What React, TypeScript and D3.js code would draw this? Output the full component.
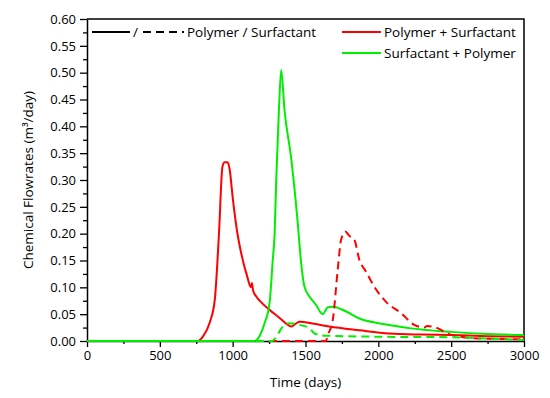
import React, { useEffect, useRef } from 'react';
import * as d3 from 'd3';

// [time (days), flowrate (m3/day)]
const polySurfPolymer = [
  [0, 0], [762, 0], [800, 0.01], [842, 0.034], [877, 0.076], [906, 0.2], [930, 0.325], [945, 0.333],
  [965, 0.333], [978, 0.322], [1002, 0.263], [1030, 0.205], [1059, 0.163], [1100, 0.12], [1125, 0.1], [1132, 0.108],
  [1140, 0.094], [1162, 0.083], [1200, 0.071], [1253, 0.058], [1322, 0.043], [1379, 0.03], [1402, 0.027],
  [1436, 0.033], [1459, 0.036], [1560, 0.032], [1664, 0.027], [1870, 0.02], [2075, 0.014], [2300, 0.012],
  [2500, 0.011], [2750, 0.009], [3000, 0.008],
];
const polySurfSurfactant = [
  [0, 0], [1640, 0], [1653, 0.011], [1687, 0.039], [1721, 0.132], [1744, 0.188], [1774, 0.204],
  [1797, 0.197], [1836, 0.188], [1870, 0.151], [1916, 0.129], [1973, 0.101], [2053, 0.073], [2155, 0.052],
  [2247, 0.03], [2315, 0.025], [2335, 0.028], [2406, 0.024], [2475, 0.014], [2566, 0.008], [2660, 0.005],
  [2800, 0.004], [3000, 0.003],
];
const surfPolyPolymer = [
  [0, 0], [1151, 0], [1190, 0.012], [1219, 0.033], [1253, 0.07], [1275, 0.15], [1288, 0.2], [1299, 0.3],
  [1316, 0.42], [1333, 0.505], [1356, 0.43], [1402, 0.34], [1432, 0.263], [1447, 0.219], [1470, 0.145],
  [1493, 0.101], [1527, 0.083], [1573, 0.067], [1607, 0.052], [1620, 0.05], [1640, 0.058], [1653, 0.063],
  [1687, 0.064], [1779, 0.055], [1870, 0.042], [1984, 0.034], [2075, 0.03], [2212, 0.024], [2500, 0.017],
  [2750, 0.013], [3000, 0.011],
];
const surfPolySurfactant = [
  [0, 0], [1270, 0], [1300, 0.008], [1322, 0.018], [1356, 0.03], [1390, 0.033], [1459, 0.03],
  [1527, 0.024], [1562, 0.014], [1630, 0.01], [1984, 0.008], [2500, 0.007], [2800, 0.004], [3000, 0.002],
];

const xTicks = [0, 500, 1000, 1500, 2000, 2500, 3000];
const yTicks = [0, 0.05, 0.1, 0.15, 0.2, 0.25, 0.3, 0.35, 0.4, 0.45, 0.5, 0.55, 0.6];

const App = () => {
  const ref = useRef<SVGSVGElement>(null);

  useEffect(() => {
    const svg = d3.select(ref.current);
    svg.selectAll('*').remove();
    const font = '"Open Sans", Lato, sans-serif';

    const left = 87, right = 524, top = 19, bottom = 341;
    const x = d3.scaleLinear().domain([0, 3000]).range([left, right]);
    const y = d3.scaleLinear().domain([0, 0.6]).range([bottom, top]);

    // axes
    const xAxis = svg.append('g').attr('transform', `translate(0,${bottom})`)
      .call(d3.axisBottom(x).tickValues(xTicks).tickSize(6).tickSizeOuter(0).tickPadding(4).tickFormat(d3.format('d')));
    svg.append('g').attr('transform', `translate(0,${bottom})`)
      .call(d3.axisBottom(x).tickValues(d3.range(250, 3000, 500)).tickSize(3).tickFormat(() => ''))
      .select('.domain').remove();
    const yAxis = svg.append('g').attr('transform', `translate(${left},0)`)
      .call(d3.axisLeft(y).tickValues(yTicks).tickSize(7).tickSizeOuter(0).tickPadding(4).tickFormat(d3.format('.2f')));
    svg.append('g').attr('transform', `translate(${left},0)`)
      .call(d3.axisLeft(y).tickValues(d3.range(0.025, 0.6, 0.05)).tickSize(4).tickFormat(() => ''))
      .select('.domain').remove();

    svg.selectAll('.tick line').attr('stroke', '#000').attr('stroke-width', 1.3);
    svg.selectAll('.domain').attr('stroke', '#000').attr('stroke-width', 1.5);
    xAxis.selectAll('text').attr('font-family', font).attr('font-size', 13).attr('fill', '#000');
    yAxis.selectAll('text').attr('font-family', font).attr('font-size', 13).attr('fill', '#000');

    // frame
    svg.append('path').attr('d', `M${left},${top}H${right}V${bottom}`)
      .attr('fill', 'none').attr('stroke', '#000').attr('stroke-width', 1.5);

    const line = d3.line<number[]>().x((d) => x(d[0])).y((d) => y(d[1])).curve(d3.curveMonotoneX);
    const series = [
      { data: polySurfPolymer, color: '#ff0000', dash: null },
      { data: surfPolyPolymer, color: '#00ee00', dash: null },
      { data: polySurfSurfactant, color: '#ff0000', dash: '8,5' },
      { data: surfPolySurfactant, color: '#00ee00', dash: '8,5' },
    ];
    series.forEach((s) => {
      svg.append('path').datum(s.data).attr('d', line).attr('fill', 'none')
        .attr('stroke', s.color).attr('stroke-width', 2)
        .attr('stroke-dasharray', s.dash);
    });

    // legend
    const lg = svg.append('g').attr('font-family', font).attr('font-size', 13.5).attr('fill', '#000');
    lg.append('line').attr('x1', 92).attr('x2', 130).attr('y1', 32).attr('y2', 32).attr('stroke', '#000').attr('stroke-width', 2);
    lg.append('text').attr('x', 133).attr('y', 37).text('/');
    lg.append('line').attr('x1', 143).attr('x2', 184).attr('y1', 32).attr('y2', 32).attr('stroke', '#000')
      .attr('stroke-width', 2).attr('stroke-dasharray', '8,5');
    lg.append('text').attr('x', 187).attr('y', 37).text('Polymer / Surfactant');
    lg.append('line').attr('x1', 342).attr('x2', 381).attr('y1', 32).attr('y2', 32).attr('stroke', '#ff0000').attr('stroke-width', 2);
    lg.append('text').attr('x', 384).attr('y', 37).text('Polymer + Surfactant');
    lg.append('line').attr('x1', 342).attr('x2', 381).attr('y1', 53).attr('y2', 53).attr('stroke', '#00ee00').attr('stroke-width', 2);
    lg.append('text').attr('x', 384).attr('y', 58).text('Surfactant + Polymer');

    // titles
    svg.append('text').attr('x', (left + right) / 2).attr('y', 387).attr('text-anchor', 'middle')
      .attr('font-family', font).attr('font-size', 13.5).text('Time (days)');
    svg.append('text').attr('transform', `translate(33,${(top + bottom) / 2}) rotate(-90)`)
      .attr('text-anchor', 'middle').attr('font-family', font).attr('font-size', 13.5)
      .text('Chemical Flowrates (m³/day)');
  }, []);

  return (
    <svg ref={ref} width={550} height={398}
      style={{ position: 'absolute', left: 0, top: 0, background: '#fff' }} />
  );
};

export default App;
